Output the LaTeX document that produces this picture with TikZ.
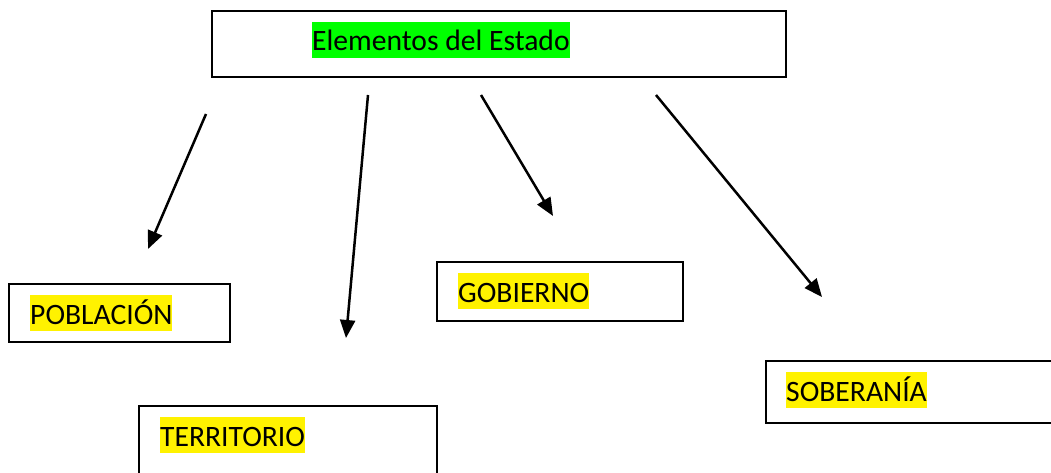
\documentclass[tikz,border=0pt]{standalone}
\usepackage{fontspec}
\setmainfont{Carlito}
\usetikzlibrary{arrows.meta,positioning}
\tikzset{elembox/.style={draw,rectangle,line width=2pt,inner sep=0},
    marker/.style={fill=yellow,inner sep=0,anchor=west,text height=29pt,text depth=7pt,font=\fontsize{29.6pt}{36pt}\selectfont},
    pointer/.style={line width=2.5pt,-{Triangle[length=18pt,width=15pt]}}}

\begin{document}
\begin{tikzpicture}[x=1pt,y=-1pt]
\useasboundingbox (0,0) rectangle (1051,473);
\clip (0,0) rectangle (1051,473);

\node (estado) [elembox,minimum width=574pt,minimum height=66pt] at (499,44) {};
\node (lblestado) [marker,fill=green] at (312,40) {Elementos del Estado};

\node (poblacion) [elembox,minimum width=221pt,minimum height=58pt] at (119.5,313) {};
\node (lblpoblacion) [marker] at (30,313) {POBLACIÓN};

\node (territorio) [elembox,minimum width=298pt,minimum height=80pt] at (288,446) {};
\node (lblterritorio) [marker] at (160,435) {TERRITORIO};

\node (gobierno) [elembox,minimum width=246pt,minimum height=59pt] at (560,291.5) {};
\node (lblgobierno) [marker] at (458,291) {GOBIERNO};

\node (soberania) [elembox,minimum width=330pt,minimum height=62pt] at (931,392) {};
\node (lblsoberania) [marker] at (786,390) {SOBERANÍA};

% free ends of the arrows
\coordinate (t0) at (206,114);
\coordinate (h0) at (148,249);
\coordinate (t1) at (368,95);
\coordinate (h1) at (346,338);
\coordinate (t2) at (481,95);
\coordinate (h2) at (553,216);
\coordinate (t3) at (656,95);
\coordinate (h3) at (822,297);

\draw [pointer] (t0) -- (h0);
\draw [pointer] (t1) -- (h1);
\draw [pointer] (t2) -- (h2);
\draw [pointer] (t3) -- (h3);

\end{tikzpicture}
\end{document}
